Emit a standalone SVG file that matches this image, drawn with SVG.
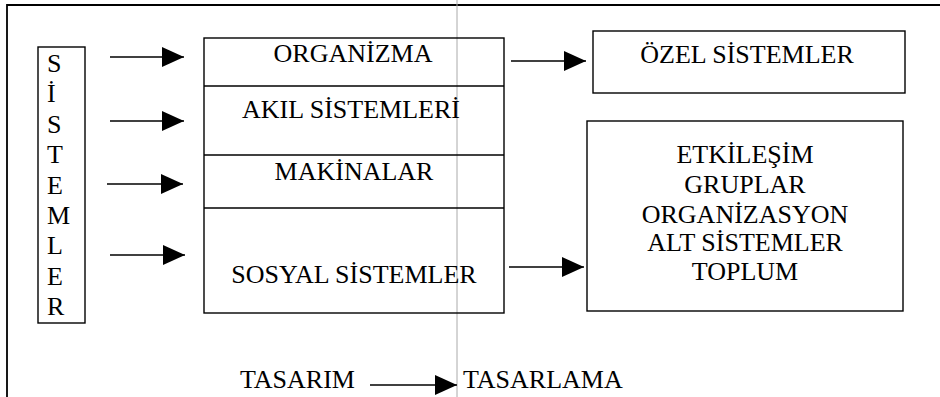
<svg xmlns="http://www.w3.org/2000/svg" width="940" height="397" viewBox="0 0 940 397">
<style>
text{font-family:"Liberation Serif","Times New Roman",serif;font-size:26px;fill:#000}
.c{text-anchor:middle}
.box{fill:none;stroke:#000;stroke-width:1.4}
.conn line{stroke:#000;stroke-width:1.6}
</style>
<defs>
<marker id="ah" markerUnits="userSpaceOnUse" markerWidth="22" markerHeight="20" refX="22" refY="10" orient="auto">
<path d="M0,0 L22,10 L0,20 z" fill="#000"/>
</marker>
</defs>
<rect width="940" height="397" fill="#fff"/>
<g id="frame">
<path d="M7,397 L7,5 L940,5" fill="none" stroke="#000" stroke-width="1.8"/>
<line x1="457" y1="0" x2="457" y2="397" stroke="#aaa" stroke-width="1"/>
</g>
<g id="sistemler">
<rect class="box" x="38" y="47" width="47" height="276"/>
<text x="47" y="72">S</text>
<text x="47" y="102.4">İ</text>
<text x="47" y="132.8">S</text>
<text x="47" y="163.2">T</text>
<text x="47" y="193.6">E</text>
<text x="47" y="224">M</text>
<text x="47" y="254.4">L</text>
<text x="47" y="284.8">E</text>
<text x="47" y="315.2">R</text>
</g>
<g id="main-stack">
<rect class="box" x="204" y="38" width="300" height="275"/>
<line x1="204" y1="86" x2="504" y2="86" stroke="#000" stroke-width="1.4"/>
<line x1="204" y1="155" x2="504" y2="155" stroke="#000" stroke-width="1.4"/>
<line x1="204" y1="208" x2="504" y2="208" stroke="#000" stroke-width="1.4"/>
</g>
<g id="organizma"><text class="c" x="353" y="62">ORGANİZMA</text></g>
<g id="akil"><text class="c" x="351" y="118">AKIL SİSTEMLERİ</text></g>
<g id="makinalar"><text class="c" x="354" y="180">MAKİNALAR</text></g>
<g id="sosyal"><text class="c" x="354" y="283">SOSYAL SİSTEMLER</text></g>
<g id="ozel">
<rect class="box" x="593" y="31" width="312" height="62"/>
<text class="c" x="747" y="63">ÖZEL SİSTEMLER</text>
</g>
<g id="etkilesim">
<rect class="box" x="587" y="121" width="316" height="190"/>
<text class="c" x="745" y="163">ETKİLEŞİM</text>
<text class="c" x="745" y="193">GRUPLAR</text>
<text class="c" x="745" y="223">ORGANİZASYON</text>
<text class="c" x="745" y="251">ALT SİSTEMLER</text>
<text class="c" x="745" y="280">TOPLUM</text>
</g>
<g id="tasarim"><text x="240" y="388">TASARIM</text></g>
<g id="tasarlama"><text x="463" y="388">TASARLAMA</text></g>
<g class="conn" id="connectors">
<line x1="110" y1="57" x2="184" y2="57" marker-end="url(#ah)"/>
<line x1="110" y1="121" x2="184" y2="121" marker-end="url(#ah)"/>
<line x1="107" y1="184" x2="183" y2="184" marker-end="url(#ah)"/>
<line x1="110" y1="255" x2="185" y2="255" marker-end="url(#ah)"/>
<line x1="511" y1="61" x2="586" y2="61" marker-end="url(#ah)"/>
<line x1="509" y1="267" x2="584" y2="267" marker-end="url(#ah)"/>
<line x1="370" y1="385" x2="457" y2="385" marker-end="url(#ah)"/>
</g>
</svg>
